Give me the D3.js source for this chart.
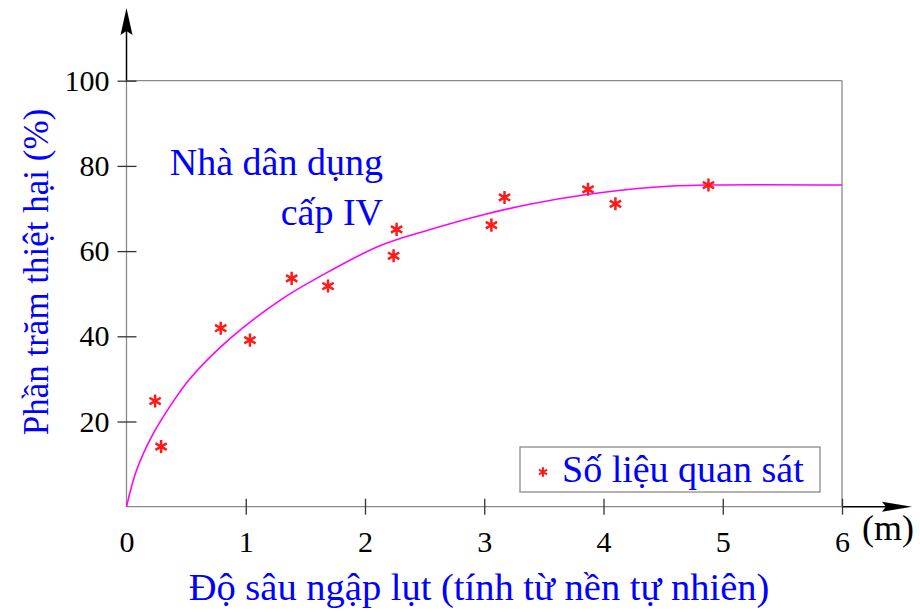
<!DOCTYPE html>
<html>
<head>
<meta charset="utf-8">
<script src="https://cdn.jsdelivr.net/npm/d3@7/dist/d3.min.js"></script>
<style>
  html, body { margin: 0; padding: 0; background: #fff; }
  svg { display: block; font-family: "Liberation Serif", "Times New Roman", serif; }
</style>
</head>
<body>
<svg id="chart" width="920" height="612"></svg>
<script>
// Observed damage points: flood depth (m) vs damage percentage (%)
const obsDepth = [0.24, 0.29, 0.79, 1.035, 1.385, 1.69, 2.265, 2.24, 3.06, 3.17, 3.87, 4.10, 4.88];
const obsDamage = [24.8, 14.1, 41.9, 39.1, 53.6, 51.8, 65.1, 58.9, 66.1, 72.6, 74.5, 71.1, 75.5];

// Fitted damage curve
const curveDepth = [0, 0.085, 0.225, 0.39, 0.53, 0.87, 1.29, 1.62, 2.12, 2.54, 2.96, 3.38, 3.86, 4.42, 4.86, 6];
const curveDamage = [0, 8.6, 17.2, 24.6, 30.0, 39.5, 48.5, 54.0, 61.2, 65.0, 68.3, 71.0, 73.3, 75.0, 75.5, 75.5];

// Axis ticks
const xTicks = [0, 1, 2, 3, 4, 5, 6];
const yTicks = [20, 40, 60, 80, 100];

const svg = d3.select("#chart");
const x = d3.scaleLinear().domain([0, 6]).range([126.5, 842]);
const y = d3.scaleLinear().domain([0, 100]).range([506.7, 80.7]);

const frameColor = "#8a8a8a";
const blue = "#0000ff";

// Plot frame (top and right)
svg.append("line").attr("x1", x(0)).attr("x2", x(6)).attr("y1", y(100)).attr("y2", y(100))
  .attr("stroke", frameColor).attr("stroke-width", 1.3);
svg.append("line").attr("x1", x(6)).attr("x2", x(6)).attr("y1", y(100)).attr("y2", y(0))
  .attr("stroke", frameColor).attr("stroke-width", 1.3);

// Main axis lines
svg.append("line").attr("x1", x(0)).attr("x2", x(6)).attr("y1", y(0)).attr("y2", y(0))
  .attr("stroke", frameColor).attr("stroke-width", 1.3);
svg.append("line").attr("x1", x(0)).attr("x2", x(0)).attr("y1", y(0)).attr("y2", y(100))
  .attr("stroke", frameColor).attr("stroke-width", 1.3);

// Arrow extensions
svg.append("line").attr("x1", x(0)).attr("x2", x(0)).attr("y1", y(100)).attr("y2", 30)
  .attr("stroke", "#000").attr("stroke-width", 1.5);
svg.append("path")
  .attr("d", `M${x(0)},8 L${x(0) + 6},35 L${x(0)},31 L${x(0) - 6},35 Z`)
  .attr("fill", "#000");
svg.append("line").attr("x1", x(6)).attr("x2", 905).attr("y1", y(0)).attr("y2", y(0))
  .attr("stroke", "#000").attr("stroke-width", 1.5);
svg.append("path")
  .attr("d", `M912,${y(0)} L882,${y(0) - 5} L886,${y(0)} L882,${y(0) + 5} Z`)
  .attr("fill", "#000");

// X axis ticks and labels
const gx = svg.append("g")
  .attr("transform", `translate(0,${y(0) - 8})`)
  .call(d3.axisBottom(x).tickValues(xTicks).tickFormat(d3.format("d")).tickSize(16));
gx.select(".domain").remove();
gx.selectAll(".tick line").attr("stroke", "#333").attr("stroke-width", 1.3)
  .filter(d => d === 0).remove();
gx.selectAll(".tick text")
  .attr("y", 53).attr("dy", null)
  .attr("font-size", 30).attr("fill", "#000")
  .style("font-family", "'Liberation Serif', serif");

// Y axis ticks and labels
const gy = svg.append("g")
  .attr("transform", `translate(${x(0) + 10},0)`)
  .call(d3.axisLeft(y).tickValues(yTicks).tickFormat(d3.format("d")).tickSize(19).tickPadding(8));
gy.select(".domain").remove();
gy.selectAll(".tick line").attr("stroke", "#333").attr("stroke-width", 1.3);
gy.selectAll(".tick text")
  .attr("dy", "0.32em")
  .attr("font-size", 30).attr("fill", "#000")
  .style("font-family", "'Liberation Serif', serif");

// Unit label
svg.append("text").attr("x", 862).attr("y", 540)
  .attr("font-size", 36).attr("fill", "#000").text("(m)");

// Axis titles
svg.append("text").attr("x", 479).attr("y", 600).attr("text-anchor", "middle")
  .attr("font-size", 38.5).attr("fill", blue)
  .text("Độ sâu ngập lụt (tính từ nền tự nhiên)");
svg.append("text")
  .attr("transform", "translate(48,272) rotate(-90)")
  .attr("text-anchor", "middle")
  .attr("font-size", 35).attr("fill", blue)
  .text("Phần trăm thiệt hại (%)");

// Annotation
svg.append("text").attr("x", 383).attr("y", 175).attr("text-anchor", "end")
  .attr("font-size", 38).attr("fill", blue).text("Nhà dân dụng");
svg.append("text").attr("x", 383).attr("y", 225).attr("text-anchor", "end")
  .attr("font-size", 38).attr("fill", blue).text("cấp IV");

// Fitted curve
const curvePts = curveDepth.map((d, i) => [d, curveDamage[i]]);
svg.append("path")
  .datum(curvePts)
  .attr("fill", "none")
  .attr("stroke", "#ff00ff")
  .attr("stroke-width", 1.6)
  .attr("d", d3.line().x(d => x(d[0])).y(d => y(d[1])).curve(d3.curveCatmullRom.alpha(0.5)));

// Observation markers
const star = d3.symbol().type(d3.symbolAsterisk).size(120);
svg.append("g").selectAll("path")
  .data(obsDepth.map((d, i) => [d, obsDamage[i]]))
  .join("path")
  .attr("transform", d => `translate(${x(d[0])},${y(d[1])})`)
  .attr("d", star)
  .attr("fill", "none")
  .attr("stroke", "#ff1a1a")
  .attr("stroke-width", 2.5);

// Legend
svg.append("rect").attr("x", 520).attr("y", 447).attr("width", 300).attr("height", 45)
  .attr("fill", "#fff").attr("stroke", frameColor).attr("stroke-width", 1.3);
svg.append("path")
  .attr("transform", "translate(543,472)")
  .attr("d", d3.symbol().type(d3.symbolAsterisk).size(60))
  .attr("fill", "none").attr("stroke", "#ff1a1a").attr("stroke-width", 2);
svg.append("text").attr("x", 562).attr("y", 482)
  .attr("font-size", 38).attr("fill", blue).text("Số liệu quan sát");
</script>
</body>
</html>
